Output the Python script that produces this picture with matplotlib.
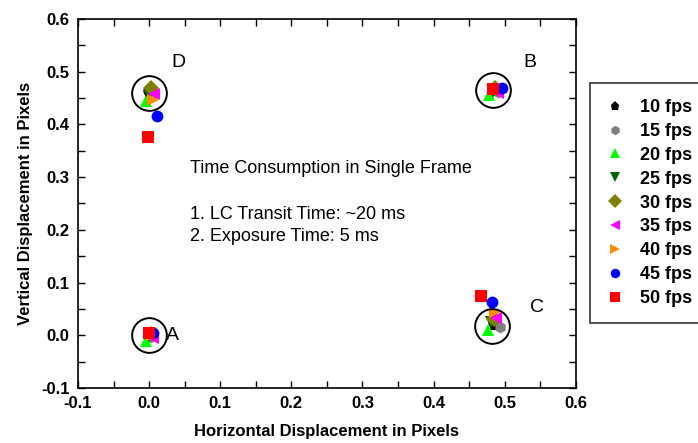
import matplotlib
matplotlib.use("Agg")
import matplotlib.pyplot as plt

plt.rcParams["font.family"] = ["Liberation Sans", "DejaVu Sans"]

# ---------- DATA ----------
labels = ["10 fps", "15 fps", "20 fps", "25 fps", "30 fps",
          "35 fps", "40 fps", "45 fps", "50 fps"]
markers = ["p", "h", "^", "v", "D", "<", ">", "o", "s"]
colors = ["black", "gray", "lime", "darkgreen", "olive",
          "magenta", "darkorange", "blue", "red"]

# x / y per series, order of points: A, B, C, D
x_vals = [
    [0.000, 0.488, 0.485, 0.000],
    [0.003, 0.490, 0.493, 0.005],
    [-0.005, 0.478, 0.477, -0.004],
    [0.000, 0.483, 0.481, 0.000],
    [0.002, 0.486, 0.485, 0.003],
    [0.005, 0.490, 0.488, 0.007],
    [0.004, 0.487, 0.487, 0.005],
    [0.006, 0.496, 0.482, 0.011],
    [0.000, 0.484, 0.467, -0.002],
]
y_vals = [
    [0.000, 0.468, 0.020, 0.460],
    [-0.003, 0.462, 0.016, 0.455],
    [-0.010, 0.455, 0.010, 0.445],
    [-0.002, 0.462, 0.025, 0.456],
    [0.002, 0.470, 0.030, 0.470],
    [-0.006, 0.460, 0.033, 0.458],
    [0.000, 0.465, 0.044, 0.446],
    [0.005, 0.470, 0.063, 0.416],
    [0.004, 0.468, 0.074, 0.376],
]

circle_x = [0.000, 0.484, 0.482, 0.000]
circle_y = [0.000, 0.465, 0.018, 0.460]
point_names = ["A", "B", "C", "D"]
name_x = [0.033, 0.536, 0.546, 0.041]
name_y = [0.000, 0.518, 0.052, 0.518]

note_title = "Time Consumption in Single Frame"
note_lines = ["1. LC Transit Time: ~20 ms", "2. Exposure Time: 5 ms"]

# ---------- GRAFICA ----------
fig = plt.figure(figsize=(6.98, 4.43), dpi=100)
ax = fig.add_axes([0.1117, 0.1242, 0.7133, 0.8329])

for lab, mk, col, xs, ys in zip(labels, markers, colors, x_vals, y_vals):
    ax.plot(xs, ys, linestyle="none", marker=mk, color=col,
            markersize=8.5, markeredgewidth=0, label=lab)

ax.plot(circle_x, circle_y, linestyle="none", marker="o",
        markersize=25, markerfacecolor="none", markeredgecolor="black",
        markeredgewidth=1.4)

for name, tx, ty in zip(point_names, name_x, name_y):
    ax.text(tx, ty, name, fontsize=14, ha="center", va="center")

ax.text(0.058, 0.317, note_title, fontsize=13, ha="left", va="center")
ax.text(0.058, 0.23, note_lines[0], fontsize=13, ha="left", va="center")
ax.text(0.058, 0.188, note_lines[1], fontsize=13, ha="left", va="center")

ax.set_xlim(-0.1, 0.6)
ax.set_ylim(-0.1, 0.6)
ax.set_xticks([-0.1, 0.0, 0.1, 0.2, 0.3, 0.4, 0.5, 0.6])
ax.set_yticks([-0.1, 0.0, 0.1, 0.2, 0.3, 0.4, 0.5, 0.6])
ax.set_xticks([-0.05, 0.05, 0.15, 0.25, 0.35, 0.45, 0.55], minor=True)
ax.set_yticks([-0.05, 0.05, 0.15, 0.25, 0.35, 0.45, 0.55], minor=True)
ax.set_xticklabels(["-0.1", "0.0", "0.1", "0.2", "0.3", "0.4", "0.5", "0.6"])
ax.set_yticklabels(["-0.1", "0.0", "0.1", "0.2", "0.3", "0.4", "0.5", "0.6"])
ax.tick_params(which="both", direction="in", top=True, right=True,
               length=5, width=1, labelsize=12, pad=6)
for lbl in ax.get_xticklabels() + ax.get_yticklabels():
    lbl.set_fontweight("bold")
for sp in ax.spines.values():
    sp.set_linewidth(1.2)

ax.set_xlabel("Horizontal Displacement in Pixels", fontsize=12,
              fontweight="bold", labelpad=9)
ax.set_ylabel("Vertical Displacement in Pixels", fontsize=12,
              fontweight="bold", labelpad=6)

leg = fig.legend(loc="upper left", bbox_to_anchor=(0.845, 0.813),
                 borderaxespad=0,
                 frameon=True, fancybox=False, edgecolor="black",
                 prop={"weight": "bold", "size": 13},
                 handletextpad=0.9, labelspacing=0.38, borderpad=0.9,
                 handlelength=1.0, markerscale=0.8)
leg.get_frame().set_linewidth(1.2)

plt.savefig("out.png", dpi=100)
